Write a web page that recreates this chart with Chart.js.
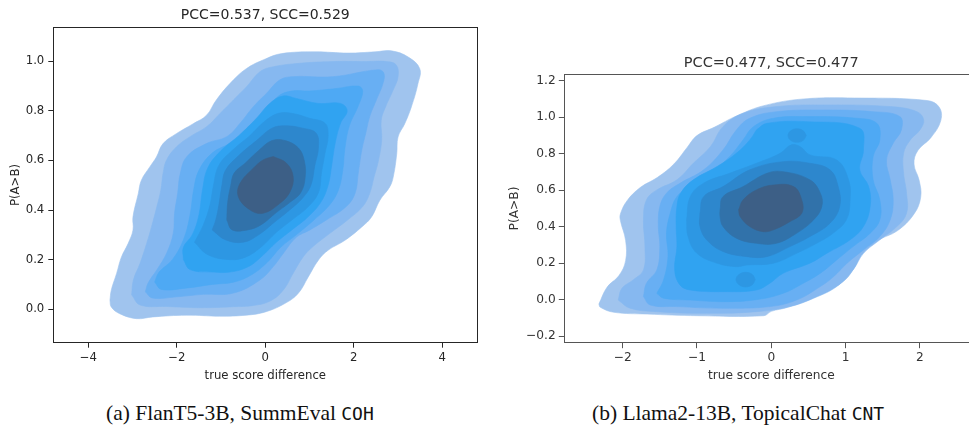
<!DOCTYPE html>
<html><head><meta charset="utf-8">
<script src="https://cdn.jsdelivr.net/npm/chart.js@4/dist/chart.umd.min.js"></script>
<style>
html,body{margin:0;padding:0;background:#fff;width:969px;height:428px;overflow:hidden;position:relative;}
canvas{position:absolute;}
#cA{left:0;top:0;}
#cB{left:490px;top:0;}
.cap{position:absolute;font-family:"Liberation Serif","Times New Roman",serif;font-size:21.5px;line-height:1;white-space:nowrap;color:#111;top:403px;}
.cap span{font-family:"DejaVu Sans Mono",monospace;font-size:18px;}
</style></head><body>
<canvas id="cA" width="490" height="392"></canvas>
<canvas id="cB" width="500" height="392"></canvas>
<div class="cap" style="left:106px">(a) FlanT5-3B, SummEval <span>COH</span></div>
<div class="cap" style="left:592px">(b) Llama2-13B, TopicalChat <span>CNT</span></div>
<script>
// ---------- tick labels / texts ----------
const xTicksA = [-4, -2, 0, 2, 4];
const yTicksA = [0.0, 0.2, 0.4, 0.6, 0.8, 1.0];
const xTicksB = [-2, -1, 0, 1, 2];
const yTicksB = [-0.2, 0.0, 0.2, 0.4, 0.6, 0.8, 1.0, 1.2];
const titleA = 'PCC=0.537, SCC=0.529';
const titleB = 'PCC=0.477, SCC=0.477';
const xLabel = 'true score difference';
const yLabel = 'P(A>B)';
const levelColors = ['#a0c4ee','#86b8f0','#68aff3','#4ea9f4','#30a3f1','#2d97e3','#2d87cd','#3172aa','#3d5f86'];

// ---------- chart (a): KDE contour levels, [true score difference, P(A>B)] ----------
const a_L1 = [[-3.51,0.036],[-3.48,0.077],[-3.36,0.144],[-3.25,0.211],[-3.10,0.265],[-2.99,0.319],[-2.99,0.372],[-2.87,0.466],[-2.80,0.520],[-2.61,0.574],[-2.46,0.614],[-2.31,0.668],[-2.01,0.708],[-1.63,0.748],[-1.33,0.782],[-1.11,0.843],[-0.80,0.910],[-0.43,0.970],[0.0,1.009],[0.37,1.031],[1.12,1.038],[1.87,1.033],[2.48,1.038],[2.85,1.042],[3.23,1.017],[3.49,0.970],[3.45,0.910],[3.30,0.816],[3.15,0.748],[3.00,0.695],[2.97,0.627],[2.89,0.533],[2.81,0.493],[2.59,0.440],[2.40,0.372],[2.18,0.332],[1.80,0.278],[1.42,0.238],[1.20,0.198],[0.97,0.130],[0.74,0.063],[0.44,0.023],[0.0,-0.011],[-0.43,-0.024],[-1.03,-0.028],[-1.78,-0.024],[-2.54,-0.031],[-2.91,-0.038],[-3.29,-0.018],[-3.48,0.009]];
const a_L2 = [[-3.02,0.058],[-2.83,0.017],[-2.23,0.011],[-1.47,0.006],[-0.72,0.010],[-0.27,0.015],[0.11,0.033],[0.41,0.078],[0.63,0.145],[0.86,0.212],[1.08,0.253],[1.46,0.306],[1.86,0.36],[2.2,0.414],[2.36,0.468],[2.46,0.535],[2.56,0.602],[2.63,0.683],[2.62,0.763],[2.72,0.817],[2.89,0.884],[3.0,0.938],[2.96,0.985],[2.74,0.999],[2.29,0.999],[1.53,0.999],[0.78,0.992],[0.18,0.978],[-0.12,0.958],[-0.42,0.898],[-0.72,0.844],[-1.02,0.79],[-1.32,0.737],[-1.70,0.696],[-2.0,0.656],[-2.23,0.602],[-2.31,0.548],[-2.36,0.481],[-2.45,0.414],[-2.57,0.333],[-2.68,0.266],[-2.83,0.185],[-2.98,0.118]];
const a_L3 = [[-2.71,0.07],[-2.55,0.045],[-2.0,0.05],[-1.4,0.06],[-0.72,0.065],[-0.12,0.118],[0.18,0.172],[0.41,0.226],[0.7,0.29],[1.01,0.32],[1.38,0.36],[1.83,0.414],[2.03,0.468],[2.1,0.548],[2.18,0.642],[2.27,0.71],[2.36,0.777],[2.51,0.844],[2.66,0.911],[2.68,0.952],[2.55,0.966],[1.53,0.938],[0.63,0.938],[0.33,0.925],[0.03,0.871],[-0.27,0.817],[-0.57,0.75],[-0.87,0.696],[-1.32,0.669],[-1.77,0.616],[-1.92,0.548],[-1.98,0.468],[-2.05,0.387],[-2.08,0.306],[-2.23,0.226],[-2.45,0.159],[-2.65,0.105]];
const a_L4 = [[-2.5,0.11],[-2.35,0.08],[-1.8,0.085],[-1.2,0.1],[-0.7,0.11],[-0.3,0.14],[0.05,0.19],[0.35,0.25],[0.7,0.30],[1.1,0.36],[1.45,0.42],[1.65,0.48],[1.75,0.56],[1.8,0.65],[1.9,0.74],[2.1,0.82],[2.2,0.88],[2.1,0.9],[1.6,0.89],[1.0,0.88],[0.6,0.88],[0.3,0.86],[0.0,0.80],[-0.4,0.73],[-0.8,0.67],[-1.2,0.63],[-1.5,0.56],[-1.62,0.48],[-1.7,0.38],[-1.85,0.28],[-2.1,0.2],[-2.4,0.15]];
const a_L5 = [[-1.85,0.2],[-1.7,0.16],[-1.2,0.15],[-0.8,0.15],[-0.4,0.17],[-0.1,0.21],[0.25,0.27],[0.6,0.32],[0.95,0.37],[1.25,0.43],[1.42,0.5],[1.5,0.58],[1.58,0.67],[1.7,0.75],[1.85,0.8],[1.7,0.83],[1.2,0.83],[0.7,0.85],[0.4,0.86],[0.1,0.83],[-0.2,0.77],[-0.6,0.70],[-1.0,0.64],[-1.3,0.57],[-1.42,0.48],[-1.5,0.38],[-1.65,0.3],[-1.85,0.25]];
const a_L6 = [[-1.6,0.27],[-1.3,0.22],[-0.8,0.2],[-0.45,0.21],[-0.1,0.25],[0.25,0.31],[0.6,0.36],[0.95,0.41],[1.2,0.47],[1.27,0.55],[1.35,0.63],[1.42,0.7],[1.35,0.75],[1.0,0.77],[0.6,0.79],[0.3,0.79],[0.0,0.76],[-0.35,0.7],[-0.75,0.64],[-1.05,0.58],[-1.17,0.5],[-1.25,0.42],[-1.4,0.34]];
const a_L7 = [[-1.2,0.32],[-0.9,0.28],[-0.5,0.27],[-0.15,0.3],[0.2,0.35],[0.55,0.4],[0.85,0.45],[1.03,0.5],[1.12,0.58],[1.2,0.65],[1.15,0.71],[0.85,0.73],[0.45,0.74],[0.15,0.73],[-0.2,0.68],[-0.6,0.62],[-0.9,0.56],[-0.98,0.5],[-1.05,0.42],[-1.12,0.36]];
const a_L8 = [[-0.87,0.36],[-0.75,0.32],[-0.4,0.32],[-0.1,0.34],[0.25,0.39],[0.55,0.43],[0.8,0.47],[0.9,0.53],[0.88,0.6],[0.75,0.65],[0.45,0.68],[0.15,0.68],[-0.15,0.64],[-0.45,0.59],[-0.7,0.55],[-0.78,0.5],[-0.85,0.43]];
const a_L9 = [[0.18,0.616],[0.48,0.589],[0.63,0.535],[0.56,0.474],[0.33,0.427],[-0.05,0.387],[-0.35,0.401],[-0.61,0.454],[-0.57,0.508],[-0.27,0.569],[-0.05,0.602]];

// ---------- chart (b) ----------
const b_L1 = [[-2.32,-0.024],[-2.21,0.068],[-2.05,0.132],[-1.96,0.214],[-1.96,0.324],[-2.03,0.434],[-2.03,0.470],[-1.94,0.543],[-1.76,0.616],[-1.53,0.671],[-1.31,0.744],[-1.13,0.836],[-1.00,0.900],[-0.77,0.945],[-0.46,1.009],[-0.10,1.064],[0.44,1.101],[1.12,1.106],[2.10,1.092],[2.26,1.055],[2.28,0.982],[2.15,0.890],[1.97,0.817],[1.92,0.744],[1.99,0.653],[2.01,0.562],[1.92,0.470],[1.70,0.379],[1.43,0.324],[1.21,0.251],[1.12,0.178],[0.98,0.104],[0.67,0.031],[0.22,-0.042],[0.0,-0.064],[-0.10,-0.088],[-0.99,-0.088],[-1.67,-0.079],[-2.12,-0.069],[-2.30,-0.042]];
const b_L2 = [[-2.06,-0.002],[-2.01,0.062],[-1.86,0.108],[-1.72,0.163],[-1.70,0.291],[-1.72,0.437],[-1.68,0.547],[-1.54,0.602],[-1.27,0.657],[-1.05,0.748],[-0.82,0.839],[-0.65,0.949],[-0.38,1.022],[0.07,1.059],[0.70,1.068],[1.60,1.059],[1.96,1.031],[2.05,0.986],[2.00,0.931],[1.87,0.876],[1.78,0.803],[1.78,0.693],[1.82,0.584],[1.82,0.474],[1.69,0.401],[1.46,0.328],[1.24,0.254],[1.10,0.163],[0.88,0.072],[0.57,0.008],[0.25,-0.038],[-0.20,-0.066],[-0.87,-0.075],[-1.54,-0.066],[-1.90,-0.047]];
const b_L3 = [[-1.72,0.017],[-1.68,0.09],[-1.54,0.163],[-1.50,0.291],[-1.52,0.401],[-1.50,0.511],[-1.41,0.584],[-1.23,0.638],[-0.91,0.712],[-0.65,0.821],[-0.47,0.931],[-0.29,0.995],[0.07,1.031],[0.70,1.040],[1.37,1.031],[1.73,1.004],[1.75,0.931],[1.64,0.858],[1.55,0.766],[1.60,0.657],[1.64,0.547],[1.60,0.438],[1.46,0.346],[1.24,0.273],[1.02,0.2],[0.84,0.127],[0.66,0.072],[0.34,-0.002],[-0.02,-0.038],[-0.65,-0.047],[-1.27,-0.038],[-1.63,-0.029]];
const b_L4 = [[-1.54,0.035],[-1.45,0.108],[-1.39,0.236],[-1.41,0.364],[-1.36,0.474],[-1.27,0.565],[-1.09,0.620],[-0.82,0.693],[-0.56,0.785],[-0.38,0.876],[-0.24,0.949],[0.03,0.995],[0.48,1.004],[1.15,0.995],[1.42,0.967],[1.46,0.876],[1.37,0.785],[1.37,0.657],[1.46,0.547],[1.46,0.438],[1.33,0.364],[1.10,0.291],[0.88,0.218],[0.66,0.145],[0.43,0.09],[0.16,0.035],[-0.20,0.0],[-0.65,-0.011],[-1.09,-0.002],[-1.45,0.008]];
const b_L5 = [[-0.20,0.931],[-0.06,0.967],[0.48,0.976],[1.19,0.94],[1.24,0.821],[1.19,0.712],[1.31,0.62],[1.33,0.511],[1.24,0.401],[1.06,0.328],[0.75,0.255],[0.52,0.2],[0.16,0.145],[-0.02,0.09],[-0.20,0.053],[-0.65,0.044],[-1.09,0.053],[-1.23,0.081],[-1.30,0.163],[-1.27,0.291],[-1.28,0.401],[-1.27,0.511],[-1.22,0.584],[-1.05,0.657],[-0.73,0.730],[-0.47,0.803],[-0.29,0.876]];
const b_L6 = [[-1.14,0.437],[-1.09,0.565],[-0.91,0.639],[-0.56,0.693],[-0.20,0.748],[0.12,0.803],[0.27,0.849],[0.39,0.839],[0.52,0.794],[0.88,0.766],[1.04,0.657],[1.06,0.547],[1.01,0.438],[0.83,0.364],[0.61,0.309],[0.34,0.254],[0.03,0.200],[-0.33,0.19],[-0.47,0.181],[-0.73,0.200],[-1.00,0.254],[-1.12,0.346]];
const b_L6top = [[0.47,0.9],[0.43,0.926],[0.345,0.937],[0.26,0.926],[0.225,0.9],[0.26,0.874],[0.345,0.863],[0.43,0.874]];
const b_L6bot = [[-0.215,0.11],[-0.255,0.138],[-0.345,0.15],[-0.435,0.138],[-0.475,0.11],[-0.435,0.082],[-0.345,0.07],[-0.255,0.082]];
const b_L7 = [[-0.96,0.474],[-0.91,0.565],[-0.65,0.62],[-0.29,0.712],[0.16,0.757],[0.52,0.748],[0.79,0.712],[0.90,0.62],[0.92,0.511],[0.79,0.419],[0.52,0.346],[0.25,0.291],[-0.06,0.236],[-0.33,0.236],[-0.65,0.264],[-0.87,0.328],[-0.96,0.401]];
const b_L8 = [[-0.69,0.492],[-0.65,0.565],[-0.38,0.62],[-0.06,0.693],[0.16,0.702],[0.52,0.657],[0.66,0.584],[0.68,0.511],[0.57,0.438],[0.34,0.364],[0.07,0.309],[-0.20,0.309],[-0.47,0.337],[-0.65,0.401],[-0.69,0.456]];
const b_L9 = [[-0.44,0.492],[-0.38,0.547],[-0.20,0.602],[0.03,0.629],[0.30,0.620],[0.41,0.547],[0.41,0.474],[0.25,0.428],[0.03,0.383],[-0.11,0.373],[-0.29,0.401],[-0.42,0.456]];

const levelsA = [[0,a_L1],[1,a_L2],[2,a_L3],[3,a_L4],[4,a_L5],[5,a_L6],[6,a_L7],[7,a_L8],[8,a_L9]];
const levelsB = [[0,b_L1],[1,b_L2],[2,b_L3],[3,b_L4],[4,b_L5],[5,b_L6],[5,b_L6top],[5,b_L6bot],[6,b_L7],[7,b_L8],[8,b_L9]];

function fmt(digits){ return v => (v < 0 ? '\u2212' : '') + Math.abs(v).toFixed(digits); }

function makeChart(id, o) {
  const datasets = o.levels.map(([lv, poly]) => ({
    data: poly.concat([poly[0]]).map(p => ({x: p[0], y: p[1]})),
    xAxisID: 'x', yAxisID: 'y',
    backgroundColor: levelColors[lv],
    borderColor: levelColors[lv],
    borderWidth: 0.6,
    pointRadius: 0, pointHoverRadius: 0,
    fill: 'shape', tension: 0.4,
    order: 9 - lv
  }));
  const tickFont = {family: 'DejaVu Sans', size: o.tickSize};
  const spine = {display: true, color: o.spine, width: 1};
  return new Chart(document.getElementById(id), {
    type: 'line',
    data: {datasets},
    options: {
      responsive: false, animation: false, devicePixelRatio: 1,
      layout: {padding: {left: 0, right: o.padRight, top: 0, bottom: 0}},
      plugins: {
        legend: {display: false}, tooltip: {enabled: false},
        title: {display: true, text: o.title, fullSize: false, color: o.text,
          font: {family: 'DejaVu Sans', size: o.titleSize, weight: 'normal'},
          padding: {top: o.titleTop, bottom: o.titleBottom}}
      },
      scales: {
        x: {type: 'linear', position: 'bottom', min: o.xmin, max: o.xmax,
          afterBuildTicks: a => { a.ticks = o.xTicks.map(v => ({value: v})); },
          afterFit: s => { s.height = o.xAxisH; },
          grid: {display: true, drawOnChartArea: false, drawTicks: true, tickLength: o.tl, color: o.spine, lineWidth: 1},
          border: spine,
          ticks: {padding: o.xPad, font: tickFont, color: o.text, callback: fmt(0), maxRotation: 0, autoSkip: false},
          title: {display: true, text: xLabel, color: o.text, font: {family: 'DejaVu Sans', size: o.labelSize}, padding: {top: 0, bottom: o.xTitleBottom}}
        },
        y: {type: 'linear', position: 'left', min: o.ymin, max: o.ymax,
          afterBuildTicks: a => { a.ticks = o.yTicks.map(v => ({value: v})); },
          afterFit: s => { s.width = o.yAxisW; },
          grid: {display: true, drawOnChartArea: false, drawTicks: true, tickLength: o.tl, color: o.spine, lineWidth: 1},
          border: spine,
          ticks: {padding: o.yPad, font: tickFont, color: o.text, callback: fmt(1), autoSkip: false},
          title: {display: true, text: yLabel, color: o.text, font: {family: 'DejaVu Sans', size: o.labelSize}, padding: {top: o.yTitleTop, bottom: 0}}
        },
        x2: {type: 'linear', position: 'top', display: true, grid: {display: false}, ticks: {display: false}, border: spine,
          afterFit: s => { s.height = 0; }},
        y2: {type: 'linear', position: 'right', display: true, grid: {display: false}, ticks: {display: false}, border: spine,
          afterFit: s => { s.width = 0; }}
      }
    }
  });
}

makeChart('cA', {levels: levelsA, title: titleA, xTicks: xTicksA, yTicks: yTicksA,
  xmin: -4.79, xmax: 4.79, ymin: -0.135, ymax: 1.137,
  padRight: 12.7, xAxisH: 49.3, yAxisW: 53.3, tl: 5, xPad: 3.3, yPad: 4,
  tickSize: 11.7, labelSize: 11.7, titleSize: 14, titleTop: 6.8, titleBottom: 3.7,
  xTitleBottom: 9, yTitleTop: 8.7, spine: '#262626', text: '#262626'});

makeChart('cB', {levels: levelsB, title: titleB, xTicks: xTicksB, yTicks: yTicksB,
  xmin: -2.785, xmax: 2.785, ymin: -0.236, ymax: 1.236,
  padRight: 11.7, xAxisH: 49.3, yAxisW: 74.3, tl: 5.5, xPad: 2, yPad: 3.1,
  tickSize: 12.2, labelSize: 12.2, titleSize: 14.5, titleTop: 54.6, titleBottom: 2.3,
  xTitleBottom: 8.9, yTitleTop: 17.7, spine: '#555555', text: '#333333'});
</script>
</body></html>
